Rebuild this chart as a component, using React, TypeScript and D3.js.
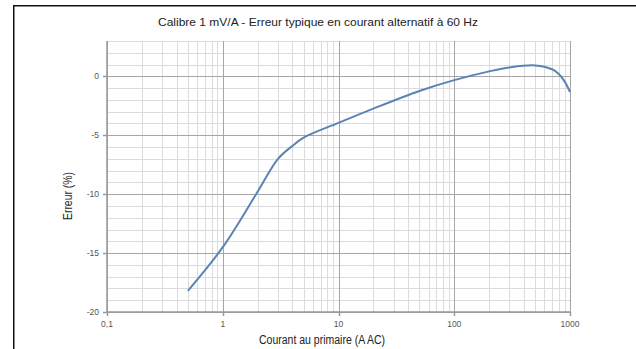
import React from "react";
import * as d3 from "d3";

const currents = [0.5, 1, 2, 3, 4, 5, 10, 20, 50, 100, 200, 300, 500, 700, 800, 900, 1000];
const errors = [-18.2, -14.5, -9.8, -7.0, -5.9, -5.2, -3.95, -2.74, -1.24, -0.32, 0.42, 0.76, 0.93, 0.6, 0.2, -0.45, -1.33];
const xTickValues = [0.1, 1, 10, 100, 1000];
const xTickLabels = ["0,1", "1", "10", "100", "1000"];
const yTickValues = [0, -5, -10, -15, -20];
const yTickLabels = ["0", "-5", "-10", "-15", "-20"];
const title = "Calibre 1 mV/A - Erreur typique en courant alternatif à 60 Hz";
const xTitle = "Courant au primaire (A AC)";
const yTitle = "Erreur (%)";

const W = 636;
const H = 349;
const FONT = "'Liberation Sans', Arial, sans-serif";

export default function App() {
  const x = d3.scaleLog().domain([0.1, 1000]).range([107, 570]);
  const y = d3.scaleLinear().domain([-20, 3]).range([312, 41]);

  const minorX: number[] = [];
  for (let d = 0.1; d < 1000; d *= 10) {
    for (let k = 2; k <= 9; k++) minorX.push(+(d * k).toPrecision(3));
  }
  const majorX = xTickValues;
  const minorY = d3.range(-20, 4, 1).filter((v) => v % 5 !== 0);
  const majorY = d3.range(-20, 4, 5);

  const pts: [number, number][] = currents.map((c, i) => [c, errors[i]]);
  const line = d3
    .line<[number, number]>()
    .x((d) => x(d[0]))
    .y((d) => y(d[1]))
    .curve(d3.curveCatmullRom.alpha(0.5));

  const [x0, x1] = x.range();
  const [y0, y1] = y.range();

  return (
    <svg
      width={W}
      height={H}
      style={{ position: "absolute", left: 0, top: 0, background: "#fff" }}
      fontFamily={FONT}
    >
      <rect x={0} y={0} width={W} height={H} fill="#fff" />
      {/* frame */}
      <line x1={13} x2={W} y1={5.75} y2={5.75} stroke="#111" strokeWidth={1.5} />
      <line x1={13.75} x2={13.75} y1={5} y2={H} stroke="#111" strokeWidth={1.5} />

      <text x={158} y={26} fontSize={11.5} fill="#222" textLength={320} lengthAdjust="spacingAndGlyphs">
        {title}
      </text>

      {/* minor grid */}
      <g stroke="#dcdcdc" strokeWidth={1}>
        {minorX.map((v) => (
          <line key={"mx" + v} x1={Math.round(x(v)) + 0.5} x2={Math.round(x(v)) + 0.5} y1={y1} y2={y0} />
        ))}
        {minorY.map((v) => (
          <line key={"my" + v} x1={x0} x2={x1} y1={Math.round(y(v)) + 0.5} y2={Math.round(y(v)) + 0.5} />
        ))}
      </g>
      {/* major grid */}
      <g stroke="#a6a6a6" strokeWidth={1}>
        {majorX.map((v) => (
          <line key={"Mx" + v} x1={Math.round(x(v)) + 0.5} x2={Math.round(x(v)) + 0.5} y1={y1} y2={y0} />
        ))}
        {majorY.map((v) => (
          <line key={"My" + v} x1={x0} x2={x1} y1={Math.round(y(v)) + 0.5} y2={Math.round(y(v)) + 0.5} />
        ))}
      </g>
      {/* axes */}
      <g stroke="#999" strokeWidth={1.5}>
        <line x1={x0} x2={x0} y1={y1} y2={y0} />
        <line x1={x0} x2={x1} y1={y0} y2={y0} />
        {yTickValues.map((v) => (
          <line key={"ty" + v} x1={x0 - 4} x2={x0} y1={Math.round(y(v)) + 0.5} y2={Math.round(y(v)) + 0.5} />
        ))}
        {xTickValues.map((v) => (
          <line key={"tx" + v} x1={Math.round(x(v)) + 0.5} x2={Math.round(x(v)) + 0.5} y1={y0} y2={y0 + 4} />
        ))}
      </g>

      {/* tick labels */}
      <g fontSize={8.5} fill="#555">
        {yTickValues.map((v, i) => (
          <text key={"ly" + v} x={99} y={y(v) + 3} textAnchor="end">
            {yTickLabels[i]}
          </text>
        ))}
        {xTickValues.map((v, i) => (
          <text key={"lx" + v} x={x(v)} y={327} textAnchor="middle">
            {xTickLabels[i]}
          </text>
        ))}
      </g>

      <path d={line(pts) || ""} fill="none" stroke="#5a84b6" strokeWidth={2} />

      <text x={259} y={344} fontSize={12} fill="#222" textLength={126} lengthAdjust="spacingAndGlyphs">
        {xTitle}
      </text>
      <text
        transform={`translate(72, 220) rotate(-90)`}
        fontSize={12}
        fill="#222"
        textLength={48}
        lengthAdjust="spacingAndGlyphs"
      >
        {yTitle}
      </text>
    </svg>
  );
}
